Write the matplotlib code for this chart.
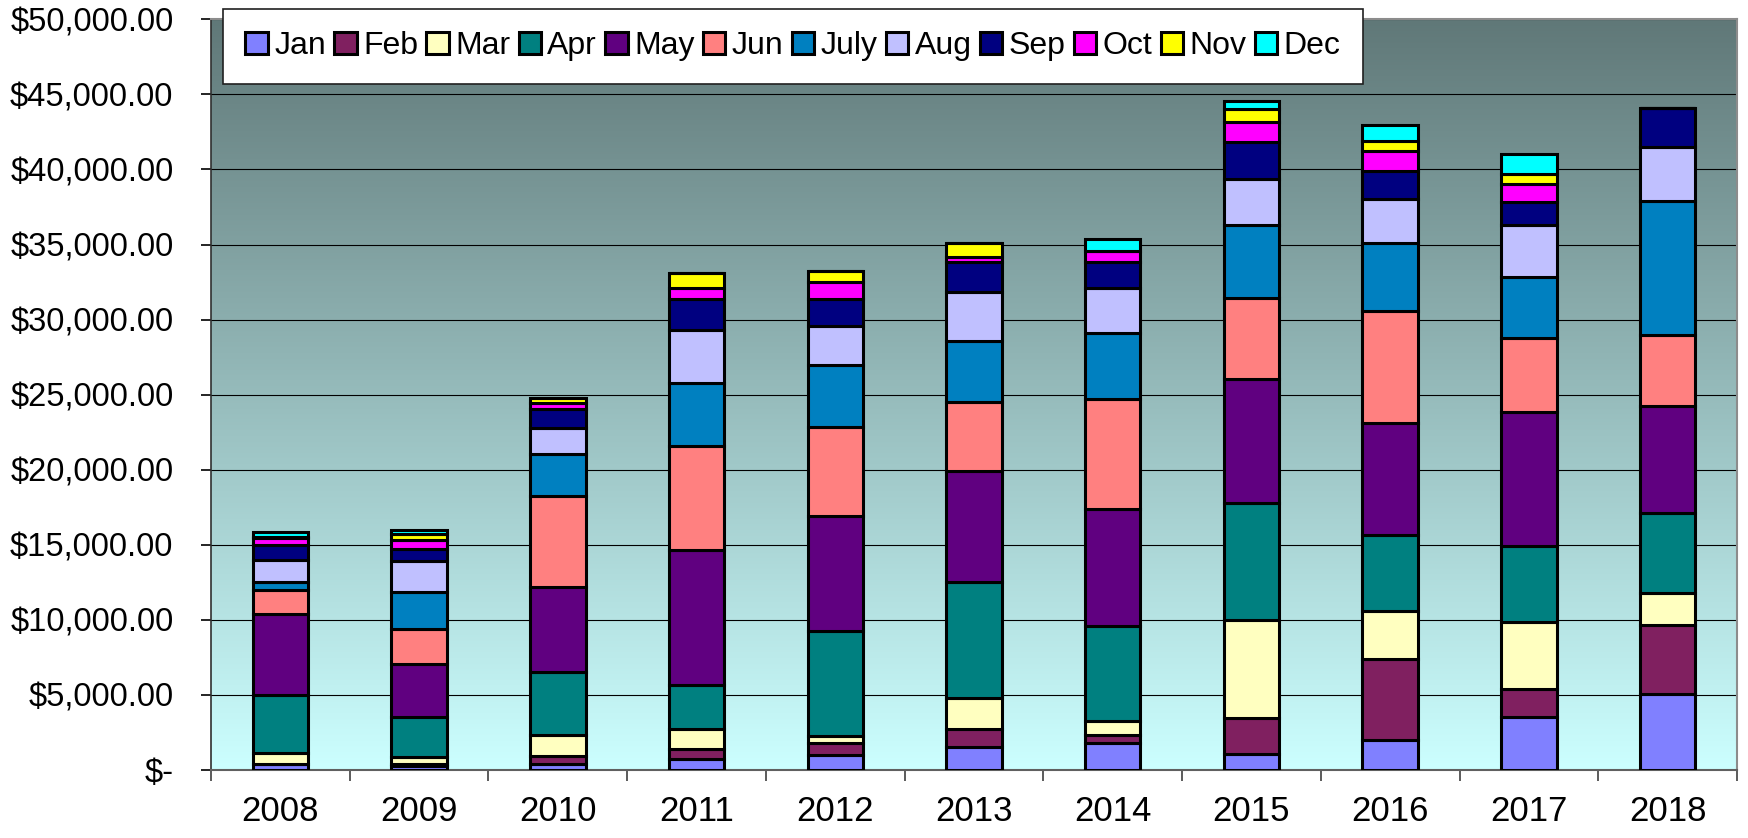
import numpy as np
import matplotlib
matplotlib.use("Agg")
from matplotlib import pyplot as plt
from matplotlib.ticker import FuncFormatter, FixedLocator

plt.rcParams['font.family'] = ['Liberation Sans', 'DejaVu Sans']

years = ["2008", "2009", "2010", "2011", "2012", "2013", "2014", "2015", "2016", "2017", "2018"]
months = ["Jan", "Feb", "Mar", "Apr", "May", "Jun", "July", "Aug", "Sep", "Oct", "Nov", "Dec"]

jan = [380, 290, 380, 700, 1000, 1500, 1800, 1070, 1990, 3530, 5080]
feb = [50, 100, 560, 680, 800, 1260, 500, 2370, 5400, 1870, 4600]
mar = [700, 500, 1370, 1330, 470, 2030, 950, 6560, 3210, 4450, 2110]
apr = [3870, 2620, 4230, 2950, 7020, 7700, 6350, 7780, 5050, 5050, 5340]
may = [5420, 3556, 5630, 9010, 7630, 7420, 7780, 8250, 7480, 8970, 7130]
jun = [1550, 2355, 6060, 6940, 5950, 4570, 7360, 5430, 7420, 4930, 4720]
jul = [555, 2467, 2790, 4140, 4080, 4080, 4370, 4810, 4540, 4040, 8910]
aug = [1445, 2000, 1760, 3560, 2640, 3270, 3000, 3120, 2910, 3470, 3620]
sep = [1020, 845, 1280, 2050, 1750, 1980, 1750, 2460, 1870, 1520, 2610]
oct_ = [480, 578, 400, 765, 1190, 370, 710, 1310, 1370, 1220, 0]
nov = [80, 378, 350, 950, 700, 900, 0, 890, 650, 620, 0]
dec = [290, 311, 0, 0, 0, 0, 830, 500, 1070, 1340, 0]

series = [jan, feb, mar, apr, may, jun, jul, aug, sep, oct_, nov, dec]
colors = ["#8080FF", "#802060", "#FFFFC0", "#008080", "#600080", "#FF8080",
          "#0080C0", "#C0C0FF", "#000080", "#FF00FF", "#FFFF00", "#00FFFF"]

fig = plt.figure(figsize=(17.48, 8.38), dpi=100)
ax = fig.add_axes([211/1748, 1-770/838, (1737-211)/1748, (770-19.3)/838])

# background gradient (dark slate at top -> light cyan at bottom)
top = np.array([96, 120, 120]) / 255
bot = np.array([204, 255, 255]) / 255
t = np.linspace(0, 1, 256)[:, None]
grad = (top * (1 - t) + bot * t)[:, None, :]
ax.imshow(grad, extent=[0, 1, 0, 1], transform=ax.transAxes, aspect='auto', zorder=0)

x = np.arange(len(years))
bottom = np.zeros(len(years))
for name, vals, c in zip(months, series, colors):
    vals = np.array(vals, dtype=float)
    ax.bar(x, vals, 0.4, bottom=bottom, color=c, edgecolor='black', linewidth=2.2,
           label=name, zorder=3)
    bottom += vals

ax.set_xlim(-0.5, len(years) - 0.5)
ax.set_ylim(0, 50000)
ax.set_yticks(np.arange(0, 50001, 5000))
ax.yaxis.set_major_formatter(FuncFormatter(lambda v, p: "$-" if v == 0 else "${:,.2f}".format(v)))
ax.grid(axis='y', color='black', linewidth=0.8, zorder=1)
ax.set_axisbelow(True)

ax.set_xticks(x)
ax.set_xticklabels(years)
ax.xaxis.set_minor_locator(FixedLocator(np.arange(-0.5, len(years), 1.0)))
ax.tick_params(axis='x', which='major', length=0, pad=18, labelsize=25)
ax.tick_params(axis='x', which='minor', length=8, width=1.2, color='#404040')
ax.tick_params(axis='y', length=7, width=1.2, pad=20, labelsize=23.5)

for s in ['top', 'right']:
    ax.spines[s].set_color('#8c8c8c')
    ax.spines[s].set_linewidth(1.5)
ax.spines['left'].set_color('#303030')
ax.spines['bottom'].set_color('#606060')
ax.spines['left'].set_linewidth(1.2)
ax.spines['bottom'].set_linewidth(1.5)

leg = fig.legend(loc='upper left', bbox_to_anchor=(223/1748, 1-9/838, 1140/1748, 0),
                 mode='expand', ncol=12, fontsize=23, frameon=True, fancybox=False,
                 framealpha=1, handlelength=0.7, handleheight=0.7, handletextpad=0.2,
                 columnspacing=0.25, borderpad=0.7, borderaxespad=0)
leg.get_frame().set_edgecolor('#202020')
leg.get_frame().set_linewidth(1.2)

fig.savefig("out.png", dpi=100)
